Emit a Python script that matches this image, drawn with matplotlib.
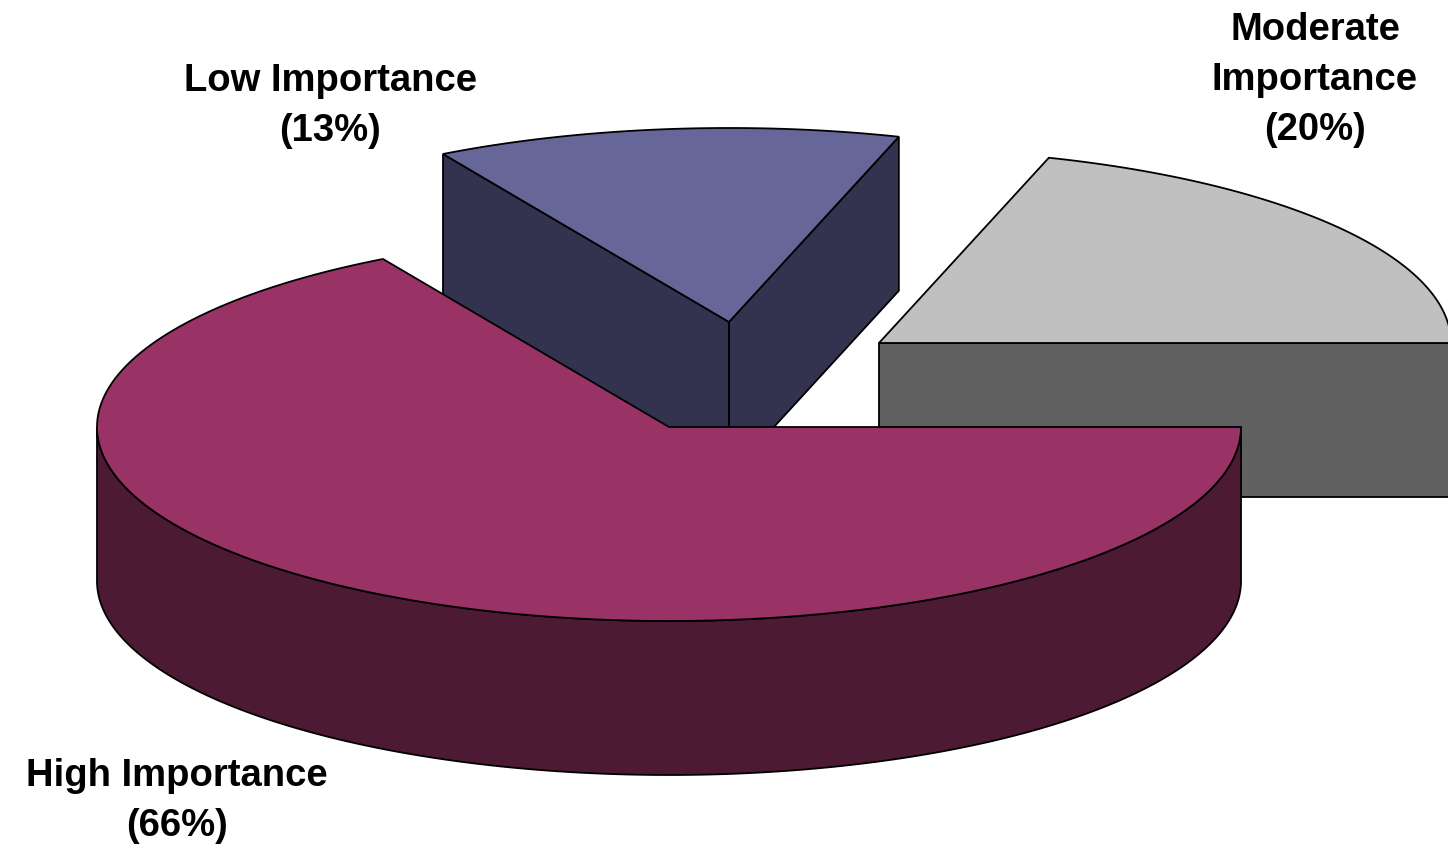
import numpy as np
import matplotlib.pyplot as plt
from matplotlib.patches import Polygon

# data
labels = ["High Importance\n(66%)", "Low Importance\n(13%)", "Moderate\nImportance\n(20%)"]
values = [66, 13, 20]
top_colors = ["#993366", "#666699", "#C0C0C0"]
side_colors = ["#4D1A33", "#333350", "#606060"]

# layout (pixel space of the picture)
cx, cy = 669, 427
rx, ry = 572, 194
depth = 154
offsets = [(0, 0), (60, -105), (210, -84)]
label_pos = [(177, 801), (330, 106), (1315, 80)]

fig = plt.figure(figsize=(14.48, 8.5), dpi=100)
ax = fig.add_axes([0, 0, 1, 1])
ax.set_xlim(0, 1448)
ax.set_ylim(850, 0)
ax.axis("off")


def pt(x0, y0, a):
    return x0 + rx * np.cos(a), y0 - ry * np.sin(a)


def arc(x0, y0, a0, a1, n=200):
    t = np.linspace(a0, a1, n)
    return np.column_stack([x0 + rx * np.cos(t), y0 - ry * np.sin(t)])


def face(xy, color):
    ax.add_patch(Polygon(xy, closed=True, facecolor=color, edgecolor="black",
                         linewidth=1.3, joinstyle="miter"))


# slices go clockwise from 3 o'clock
fracs = np.array(values) / sum(values)
ends = 2 * np.pi - np.concatenate([[0], np.cumsum(fracs)]) * 2 * np.pi
spans = [(ends[i + 1], ends[i]) for i in range(len(values))]

for i in [1, 2, 0]:
    lo, hi = spans[i]
    x0, y0 = cx + offsets[i][0], cy + offsets[i][1]
    # flat cut faces
    for a, vis in [(lo, np.cos(lo) > 1e-9), (hi, np.cos(hi) < -1e-9)]:
        if vis:
            ex, ey = pt(x0, y0, a)
            face([(x0, y0), (ex, ey), (ex, ey + depth), (x0, y0 + depth)], side_colors[i])
    # curved outer wall, front half only
    s0, s1 = max(lo, np.pi), min(hi, 2 * np.pi)
    if s1 > s0:
        top = arc(x0, y0, s0, s1)
        bot = top[::-1] + [0, depth]
        face(np.vstack([top, bot]), side_colors[i])
    # top face
    face(np.vstack([[x0, y0], arc(x0, y0, lo, hi)]), top_colors[i])

for lab, (lx, ly) in zip(labels, label_pos):
    ax.text(lx, ly, lab, ha="center", va="center", fontsize=27.5, fontweight="bold",
            family="Liberation Sans", linespacing=1.5)

fig.savefig("out.png", dpi=100)
